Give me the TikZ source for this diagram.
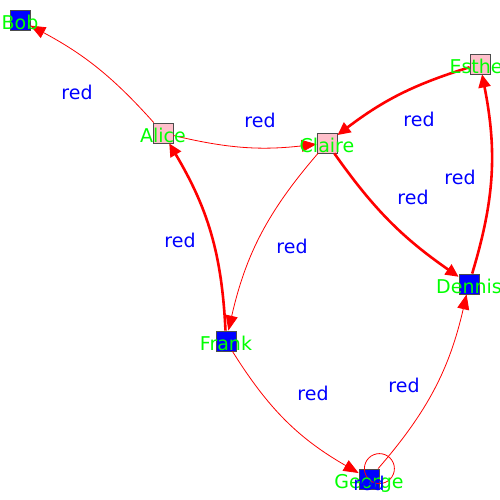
\documentclass[tikz,border=0pt]{standalone}
\usepackage{fontspec}
\setmainfont{DejaVu Sans}
\usetikzlibrary{arrows.meta}
\definecolor{vpink}{RGB}{255,192,203}
\definecolor{vgreen}{RGB}{0,255,0}
\definecolor{vblue}{RGB}{0,0,255}
\definecolor{vred}{RGB}{255,0,0}
\begin{document}
\begin{tikzpicture}[x=1pt, y=-1pt,
    vertex/.style={draw=black!70, line width=0.8pt, minimum size=20pt, inner sep=0pt},
    vname/.style={text=vgreen, font=\fontsize{19}{22}\selectfont, text height=14pt, text depth=4pt, inner sep=0pt, yshift=-4.5pt},
    elabel/.style={text=vblue, font=\fontsize{19}{22}\selectfont, text height=14pt, text depth=4pt, inner sep=0pt, yshift=-2pt},
    thin edge/.style={draw=vred, line width=0.8pt, -{Triangle[length=15pt, width=12pt]}},
    thick edge/.style={draw=vred, line width=2.6pt, -{Triangle[length=13pt, width=12pt]}}]
  \useasboundingbox (0,0) rectangle (500,500);

  % vertices
  \node[vertex, fill=vblue] (Bob) at (20,20) {};
  \node[vertex, fill=vpink] (Alice) at (163,133) {};
  \node[vertex, fill=vpink] (Claire) at (327,143) {};
  \node[vertex, fill=vpink] (Esther) at (480,64) {};
  \node[vertex, fill=vblue] (Dennis) at (469,284) {};
  \node[vertex, fill=vblue] (Frank) at (226,341) {};
  \node[vertex, fill=vblue] (George) at (369,479) {};

  % edges
  \draw[thin edge] (Alice) to[bend right=10] (Bob);
  \draw[thin edge] (Alice) to[bend right=10] (Claire);
  \draw[thick edge] (Esther) to[bend right=10] (Claire);
  \draw[thick edge] (Claire) to[bend right=10] (Dennis);
  \draw[thick edge] (Dennis) to[bend right=14] (Esther);
  \draw[thin edge] (Claire) to[bend right=14] (Frank);
  \draw[thick edge] (Frank) to[bend right=14] (Alice);
  \draw[thin edge] (Frank) to[bend right=14] (George);
  \draw[thin edge] (George) to[bend right=14] (Dennis);
  \draw[draw=vred, line width=0.8pt] (George.north east) circle[radius=15];

  % names
  \foreach \v in {Bob, Alice, Claire, Esther, Dennis, Frank, George}
    \node[vname] at (\v) {\v};

  % edge labels
  \node[elabel] at (77,93) {red};
  \node[elabel] at (260,121) {red};
  \node[elabel] at (419,120) {red};
  \node[elabel] at (413,197) {red};
  \node[elabel] at (460,177) {red};
  \node[elabel] at (292,246) {red};
  \node[elabel] at (180,240) {red};
  \node[elabel] at (313,393) {red};
  \node[elabel] at (404,385) {red};
  \node[elabel] at (369,483) {red};
\end{tikzpicture}
\end{document}
